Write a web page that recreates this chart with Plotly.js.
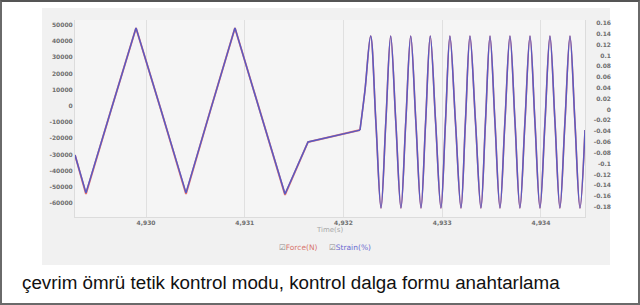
<!DOCTYPE html>
<html>
<head>
<meta charset="utf-8">
<script src="https://cdn.plot.ly/plotly-3.0.1.min.js"></script>
<style>
  html, body { margin:0; padding:0; background:#fff; }
  #frame { position:absolute; left:0; top:0; width:640px; height:305px; box-sizing:border-box; border:2px solid #6a6a6a; border-top:2px solid #555; background:#fff; }
  #panel { position:absolute; left:42px; top:8px; width:568px; height:257px; background:#f1f1f1; }
  #chart { position:absolute; left:0; top:0; width:640px; height:305px; }
  #caption { position:absolute; left:22px; top:272px; font-family:"Liberation Sans", Arial, sans-serif; font-size:18.8px; color:#111; white-space:nowrap; }
</style>
</head>
<body>
<div id="frame"></div>
<div id="panel"></div>
<div id="chart"></div>
<div id="caption">çevrim ömrü tetik kontrol modu, kontrol dalga formu anahtarlama</div>
<script>
// ---- data ----
const time = [4929.281, 4929.392, 4929.646, 4929.899, 4930.152, 4930.405, 4930.653, 4930.901, 4931.154, 4931.408,
  4931.641, 4932.167, 4932.218, 4932.275, 4932.328, 4932.380, 4932.429, 4932.478, 4932.530, 4932.582,
  4932.631, 4932.681, 4932.733, 4932.785, 4932.832, 4932.879, 4932.933, 4932.987, 4933.033, 4933.078,
  4933.134, 4933.190, 4933.235, 4933.281, 4933.337, 4933.392, 4933.438, 4933.484, 4933.534, 4933.585,
  4933.635, 4933.686, 4933.737, 4933.787, 4933.838, 4933.889, 4933.939, 4933.990, 4934.041, 4934.091,
  4934.142, 4934.192, 4934.243, 4934.294, 4934.344, 4934.395, 4934.446];

const forceN = [-30300, -54500, -2500, 48100, -2500, -54500, -2500, 48100, -3150, -55000,
  -22300, -14900, 9800, 43200, -9900, -63200, -9900, 43200, -9900, -63200,
  -9900, 43200, -9900, -63200, -9900, 43200, -9900, -63200, -9900, 43200,
  -9900, -63200, -9900, 43200, -9900, -63200, -9900, 43200, -9900, -63200,
  -9900, 43200, -9900, -63200, -9900, 43200, -9900, -63200, -9900, 43200,
  -9900, -63200, -9900, 43200, -9900, -63200, -14900];

const strainPct = [-0.084, -0.154, -0.001, 0.151, -0.001, -0.154, -0.001, 0.151, -0.003, -0.156,
  -0.060, -0.038, 0.036, 0.136, -0.023, -0.182, -0.023, 0.136, -0.023, -0.182,
  -0.023, 0.136, -0.023, -0.182, -0.023, 0.136, -0.023, -0.182, -0.023, 0.136,
  -0.023, -0.182, -0.023, 0.136, -0.023, -0.182, -0.023, 0.136, -0.023, -0.182,
  -0.023, 0.136, -0.023, -0.182, -0.023, 0.136, -0.023, -0.182, -0.023, 0.136,
  -0.023, -0.182, -0.023, 0.136, -0.023, -0.182, -0.038];

// index where the triangle/ramp part hands over to the sine part
const switchIndex = 11;

const xTickVals = [4930, 4931, 4932, 4933, 4934];
const xTickText = ['4,930', '4,931', '4,932', '4,933', '4,934'];
const forceTickVals = [50000, 40000, 30000, 20000, 10000, 0, -10000, -20000, -30000, -40000, -50000, -60000];
const forceTickText = ['50000', '40000', '30000', '20000', '10000', '0', '-10000', '-20000', '-30000', '-40000', '-50000', '-60000'];
const forceGridVals = [50000, 30000, 10000, -10000, -30000, -50000];
const strainTickVals = [0.16, 0.14, 0.12, 0.1, 0.08, 0.06, 0.04, 0.02, 0, -0.02, -0.04, -0.06, -0.08, -0.1, -0.12, -0.14, -0.16, -0.18];
const strainTickText = ['0.16', '0.14', '0.12', '0.1', '0.08', '0.06', '0.04', '0.02', '0', '-0.02', '-0.04', '-0.06', '-0.08', '-0.1', '-0.12', '-0.14', '-0.16', '-0.18'];
const seriesNames = ['Force(N)', 'Strain(%)'];

// ---- chart ----
const W = 640, H = 305;
const plotL = 75, plotR = 585, plotT = 20, plotB = 217;
const forceRange = [-68665, 53090];
const strainRange = [-0.1986, 0.1655];
const tickFont = {family: '"DejaVu Sans", Arial, sans-serif', size: 6, color: '#6f6f6f', weight: 'bold'};
const forceColor = '#e27474', strainColor = '#5a5ac2';

function part(vals, from, to) { return vals.slice(from, to); }

const traces = [
  {x: part(time, 0, switchIndex + 1), y: part(forceN, 0, switchIndex + 1), name: seriesNames[0], legendgroup: 'f',
   type: 'scatter', mode: 'lines', yaxis: 'y',
   line: {color: forceColor, width: 1.9, shape: 'linear', simplify: false}, hoverinfo: 'skip'},
  {x: part(time, switchIndex), y: part(forceN, switchIndex), name: seriesNames[0], legendgroup: 'f',
   type: 'scatter', mode: 'lines', yaxis: 'y',
   line: {color: forceColor, width: 1.6, shape: 'spline', smoothing: 1, simplify: false}, hoverinfo: 'skip'},
  {x: part(time, 0, switchIndex + 1), y: part(strainPct, 0, switchIndex + 1), name: seriesNames[1], legendgroup: 's',
   type: 'scatter', mode: 'lines', yaxis: 'y2',
   line: {color: strainColor, width: 1.5, shape: 'linear', simplify: false}, hoverinfo: 'skip'},
  {x: part(time, switchIndex), y: part(strainPct, switchIndex), name: seriesNames[1], legendgroup: 's',
   type: 'scatter', mode: 'lines', yaxis: 'y2',
   line: {color: strainColor, width: 1.5, shape: 'spline', smoothing: 1, simplify: false}, hoverinfo: 'skip'}
];

const layout = {
  width: W, height: H,
  margin: {l: 0, r: 0, t: 0, b: 0, pad: 0},
  paper_bgcolor: 'rgba(0,0,0,0)',
  plot_bgcolor: '#f5f5f5',
  showlegend: false,
  xaxis: {
    domain: [plotL / W, plotR / W], range: [4929.281, 4934.446],
    tickvals: xTickVals, ticktext: xTickText, tickfont: tickFont,
    showgrid: true, gridcolor: '#e0e0e0', gridwidth: 1,
    showline: true, linecolor: '#dcdcdc', linewidth: 1,
    zeroline: false, ticks: '', automargin: false,
    title: {text: 'Time(s)', font: {family: '"DejaVu Sans", Arial, sans-serif', size: 7, color: '#a8a8a8'}, standoff: 0}
  },
  yaxis: {
    domain: [1 - plotB / H, 1 - plotT / H], range: forceRange,
    tickvals: forceTickVals, ticktext: forceTickText, tickfont: tickFont,
    showgrid: false, zeroline: false, ticks: '', automargin: false,
    showline: true, linecolor: '#dcdcdc', linewidth: 1, mirror: true
  },
  yaxis2: {
    overlaying: 'y', anchor: 'free', side: 'left', position: 611 / W,
    range: strainRange, tickvals: strainTickVals, ticktext: strainTickText, tickfont: tickFont,
    showgrid: false, zeroline: false, ticks: '', showline: false, automargin: false
  },
  yaxis3: {
    overlaying: 'y', anchor: 'x', side: 'left', range: forceRange,
    tickvals: forceGridVals, showticklabels: false,
    showgrid: true, gridcolor: '#e0e0e0', gridwidth: 1, zeroline: false, ticks: '', automargin: false
  },
  annotations: [
    {xref: 'paper', yref: 'paper', x: 277 / W, y: 1 - 247 / H, xanchor: 'left', yanchor: 'middle', showarrow: false,
     text: '<span style="color:#8a8a8a">☑</span>' + seriesNames[0],
     font: {family: '"DejaVu Sans", Arial, sans-serif', size: 7.5, color: '#d8776f'}},
    {xref: 'paper', yref: 'paper', x: 327 / W, y: 1 - 247 / H, xanchor: 'left', yanchor: 'middle', showarrow: false,
     text: '<span style="color:#8a8a8a">☑</span>' + seriesNames[1],
     font: {family: '"DejaVu Sans", Arial, sans-serif', size: 7.5, color: '#6a6ad0'}}
  ]
};

Plotly.newPlot('chart', traces, layout, {staticPlot: true, displayModeBar: false});
</script>
</body>
</html>
